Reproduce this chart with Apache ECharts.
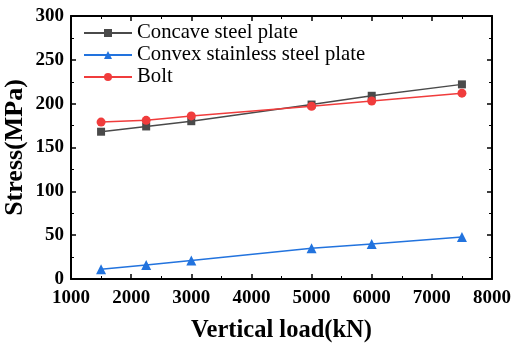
<!DOCTYPE html>
<html>
<head>
<meta charset="utf-8">
<script src="https://cdn.jsdelivr.net/npm/echarts@6/dist/echarts.min.js"></script>
<style>
html,body{margin:0;padding:0;background:#fff;}
#chart{width:512px;height:346px;}
</style>
</head>
<body>
<div id="chart"></div>
<script>
// Vertical load (kN) and stress (MPa) per component
const loads = [1500, 2250, 3000, 5000, 6000, 7500];
const concave = [168, 174, 180, 199, 209, 222];
const convex = [11, 16, 21, 35, 40, 48];
const bolt = [179, 181, 186, 197, 203, 212];
const seriesNames = ['Concave steel plate', 'Convex stainless steel plate', 'Bolt'];

const FONT = '"Liberation Serif", "Times New Roman", serif';
const pairs = (ys) => loads.map((x, i) => [x, ys[i]]);

const chart = echarts.init(document.getElementById('chart'));

const axisCommon = {
  axisLine: { show: true, onZero: false, lineStyle: { color: '#000', width: 2 } },
  axisTick: { show: true, inside: true, length: 5, lineStyle: { color: '#000', width: 1.5 } },
  minorTick: { show: true, splitNumber: 2, length: 3, lineStyle: { color: '#000', width: 1 } },
  splitLine: { show: false }
};
const tickLabel = { fontFamily: FONT, fontSize: 19, fontWeight: 'bold', color: '#000' };

chart.setOption({
  animation: false,
  grid: { left: 71, right: 20, top: 16, bottom: 67, containLabel: false, outerBoundsMode: 'none' },
  legend: {
    orient: 'vertical',
    left: 78,
    top: 17,
    itemWidth: 48,
    itemHeight: 10,
    itemGap: 0,
    textStyle: { fontFamily: FONT, fontSize: 20.7, lineHeight: 22, color: '#000' },
    data: seriesNames
  },
  xAxis: [
    Object.assign({
      type: 'value', min: 1000, max: 8000, interval: 1000,
      name: 'Vertical load(kN)', nameLocation: 'middle', nameGap: 39, nameMoveOverlap: false,
      nameTextStyle: { fontFamily: FONT, fontSize: 24.5, fontWeight: 'bold', color: '#000' },
      axisLabel: Object.assign({ margin: 10, formatter: (v) => String(v) }, tickLabel)
    }, axisCommon),
    Object.assign({
      type: 'value', min: 1000, max: 8000, interval: 1000, position: 'top',
      axisLabel: { show: false }
    }, axisCommon)
  ],
  yAxis: [
    Object.assign({
      type: 'value', min: 0, max: 300, interval: 50,
      name: 'Stress(MPa)', nameLocation: 'middle', nameGap: 43, nameMoveOverlap: false,
      nameTextStyle: { fontFamily: FONT, fontSize: 26, fontWeight: 'bold', color: '#000' },
      axisLabel: Object.assign({ margin: 7 }, tickLabel)
    }, axisCommon),
    Object.assign({
      type: 'value', min: 0, max: 300, interval: 50, position: 'right',
      axisLabel: { show: false }
    }, axisCommon)
  ],
  series: [
    {
      name: seriesNames[0], type: 'line', data: pairs(concave),
      symbol: 'rect', symbolSize: 8,
      itemStyle: { color: '#4a4a4a' }, lineStyle: { color: '#4a4a4a', width: 1.5 }
    },
    {
      name: seriesNames[1], type: 'line', data: pairs(convex),
      symbol: 'triangle', symbolSize: 10,
      itemStyle: { color: '#2273de' }, lineStyle: { color: '#2273de', width: 1.5 }
    },
    {
      name: seriesNames[2], type: 'line', data: pairs(bolt),
      symbol: 'circle', symbolSize: 9,
      itemStyle: { color: '#f03c3c' }, lineStyle: { color: '#f03c3c', width: 1.5 }
    }
  ]
});
</script>
</body>
</html>
